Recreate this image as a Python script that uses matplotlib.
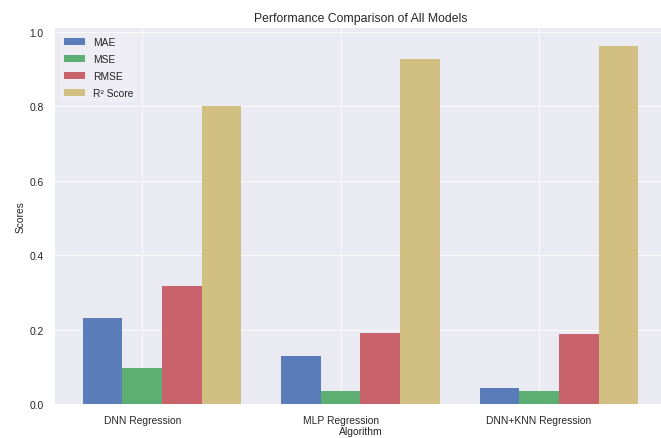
import numpy as np
import matplotlib
matplotlib.use("Agg")
import matplotlib.pyplot as plt

plt.style.use("seaborn-v0_8-darkgrid")
plt.rcParams["font.family"] = ["Liberation Sans", "DejaVu Sans"]

# Model scores
algorithms = ["DNN Regression", "MLP Regression", "DNN+KNN Regression"]
mae = [0.230, 0.130, 0.043]
mse = [0.097, 0.035, 0.035]
rmse = [0.316, 0.190, 0.188]
r2 = [0.800, 0.927, 0.962]

metric_names = ["MAE", "MSE", "RMSE", "R² Score"]
metric_colors = ["#5A7DBA", "#5DAE72", "#C9636B", "#D2BF82"]

fig = plt.figure(figsize=(661 / 73.44, 439 / 73.44), dpi=73.44)
ax = fig.add_axes([55 / 661, 34 / 439, 611 / 661, 376 / 439])

x = np.arange(len(algorithms))
width = 0.2
for i, (vals, name, col) in enumerate(zip([mae, mse, rmse, r2], metric_names, metric_colors)):
    ax.bar(x + i * width, vals, width, label=name, color=col)

ax.set_xticks(x + width)
ax.set_xticklabels(algorithms)
ax.tick_params(axis="x", pad=11)
ax.tick_params(axis="y", pad=11)
ax.set_xlabel("Algorithm", labelpad=1)
ax.set_ylabel("Scores", labelpad=4)
ax.set_title("Performance Comparison of All Models", pad=7)
ax.legend(loc="upper left", frameon=True, facecolor="#EEEEF4", edgecolor="none",
          labelspacing=0.68)

fig.savefig("out.png", dpi=73.44)
